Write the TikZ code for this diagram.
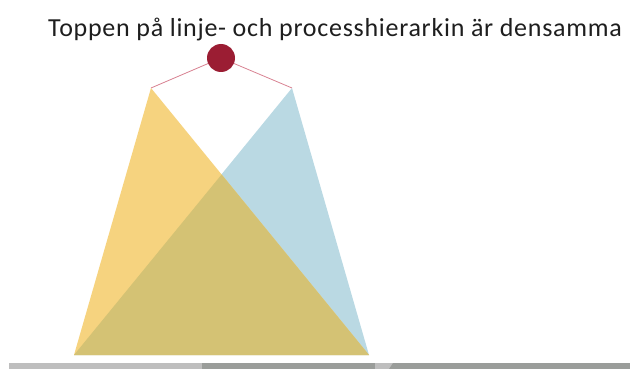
\documentclass[tikz,border=0pt]{standalone}
\usepackage{fontspec}
\setmainfont{Carlito}
\newfontfamily\titlefont[LetterSpace=2.8]{Carlito}
\usetikzlibrary{positioning}
\definecolor{HierYellow}{RGB}{246,211,127}
\definecolor{HierBlue}{RGB}{186,217,227}
\definecolor{HierMix}{RGB}{212,194,116}
\definecolor{HierTop}{RGB}{155,29,51}
\definecolor{HierLink}{RGB}{216,130,146}
\definecolor{HierText}{RGB}{30,30,30}
\definecolor{BarLight}{RGB}{190,190,190}
\definecolor{BarDark}{RGB}{154,157,154}

\begin{document}
\begin{tikzpicture}[x=1pt,y=-1pt]
  \useasboundingbox (0,0) rectangle (630,369);
  % corners of the two hierarchies
  \coordinate (lineTop) at (151,88);
  \coordinate (procTop) at (292,88);
  \coordinate (baseL) at (74,355);
  \coordinate (baseR) at (369,355);
  \coordinate (cross) at (221.6,174.5);
  \fill[HierBlue] (procTop) -- (baseL) -- (baseR) -- cycle;
  \fill[HierYellow] (lineTop) -- (baseL) -- (baseR) -- cycle;
  \fill[HierMix] (cross) -- (baseL) -- (baseR) -- cycle;
  \node[circle,fill=HierTop,minimum size=28pt,inner sep=0pt] (top) at (221,58) {};
  \draw[HierLink,line width=0.8pt] (top) -- (lineTop);
  \draw[HierLink,line width=0.8pt] (top) -- (procTop);
  \node[anchor=base west,text=HierText,font=\titlefont\fontsize{26}{30}\selectfont,inner sep=0pt] (title) at (48,36.7) {Toppen på linje- och processhierarkin är densamma};
  % bar at the bottom
  \fill[BarLight] (9,363) rectangle (630,369);
  \fill[BarDark] (202,363) rectangle (375,369);
  \fill[BarDark] (393,363) -- (630,363) -- (630,369) -- (389,369) -- cycle;
\end{tikzpicture}
\end{document}
